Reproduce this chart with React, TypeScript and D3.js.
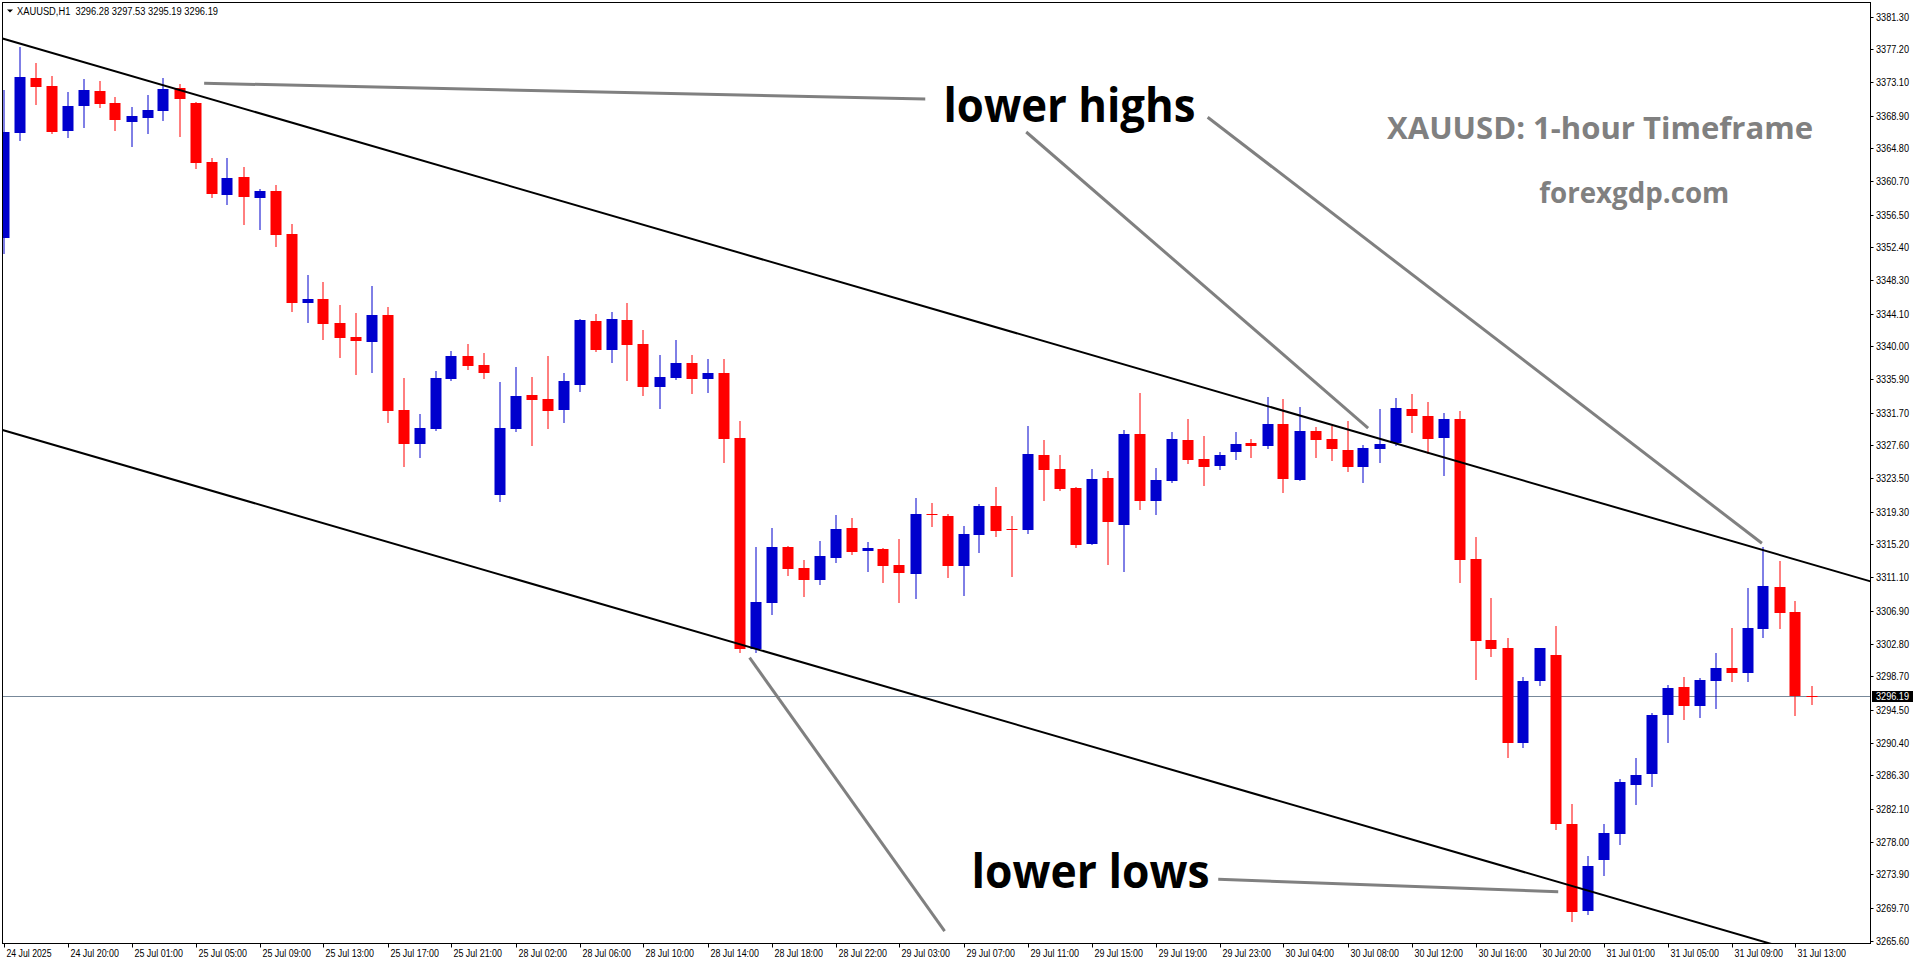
import * as d3 from "d3";

// XAUUSD H1 candles (index 0 = 24 Jul 16:00)
const openPrices = [
  3353.57, 3366.75, 3373.64, 3372.6, 3367.0, 3370.1, 3371.97, 3370.47, 3368.13, 3368.63,
  3369.51, 3372.35, 3370.47, 3363.09, 3358.99, 3361.21, 3358.62, 3359.45, 3354.07, 3345.47,
  3345.94, 3342.97, 3341.18, 3340.59, 3343.93, 3332.04, 3327.82, 3329.7, 3335.96, 3338.8,
  3337.67, 3321.43, 3329.7, 3333.92, 3333.42, 3332.08, 3335.21, 3343.18, 3339.59, 3343.31,
  3340.3, 3334.96, 3336.08, 3337.92, 3335.96, 3336.67, 3328.53, 3302.16, 3307.91, 3314.93,
  3312.3, 3310.79, 3313.55, 3317.3, 3314.43, 3314.68, 3312.67, 3311.55, 3319.06, 3318.81,
  3312.55, 3316.43, 3320.06, 3317.18, 3317.06, 3326.44, 3324.69, 3322.31, 3315.3, 3323.53,
  3317.68, 3329.04, 3320.68, 3323.19, 3328.28, 3325.9, 3325.07, 3326.82, 3327.91, 3327.57,
  3330.29, 3323.31, 3329.41, 3328.41, 3327.03, 3324.94, 3327.19, 3327.95, 3332.17, 3331.29,
  3328.57, 3330.91, 3313.39, 3303.28, 3302.28, 3290.39, 3298.15, 3301.37, 3280.25, 3269.36,
  3275.74, 3279.0, 3285.13, 3286.51, 3293.89, 3297.36, 3295.02, 3298.15, 3299.74, 3299.15,
  3304.66, 3309.88, 3306.75, 3296.28,
];
const highPrices = [
  3372.1, 3377.52, 3375.44, 3373.85, 3371.85, 3373.48, 3373.23, 3371.22, 3369.97, 3371.47,
  3373.6, 3372.85, 3370.63, 3363.59, 3363.59, 3362.5, 3359.7, 3360.21, 3355.32, 3348.94,
  3348.06, 3345.18, 3344.22, 3347.56, 3344.93, 3336.08, 3331.57, 3336.92, 3339.46, 3340.3,
  3339.17, 3335.54, 3337.42, 3336.17, 3338.8, 3336.67, 3343.4, 3344.06, 3344.31, 3345.43,
  3342.05, 3338.92, 3340.8, 3338.92, 3338.42, 3338.42, 3330.66, 3314.93, 3317.3, 3315.05,
  3313.26, 3315.64, 3318.93, 3318.56, 3315.55, 3314.8, 3315.93, 3321.06, 3320.44, 3319.06,
  3317.56, 3320.31, 3322.44, 3318.81, 3330.07, 3328.32, 3326.44, 3322.44, 3324.69, 3324.4,
  3329.54, 3334.17, 3324.78, 3329.29, 3330.91, 3328.78, 3326.78, 3329.29, 3328.41, 3333.67,
  3333.42, 3332.41, 3329.91, 3330.04, 3330.66, 3327.66, 3332.17, 3333.54, 3334.04, 3333.04,
  3331.66, 3331.91, 3316.14, 3308.5, 3303.53, 3298.65, 3302.28, 3305.0, 3282.75, 3276.2,
  3280.25, 3285.84, 3288.51, 3294.11, 3297.61, 3298.61, 3298.49, 3301.62, 3304.75, 3309.76,
  3314.89, 3313.14, 3308.13, 3297.53,
];
const lowPrices = [
  3351.69, 3365.84, 3370.35, 3366.7, 3366.25, 3367.51, 3370.01, 3367.13, 3365.13, 3366.75,
  3368.38, 3366.38, 3362.37, 3358.74, 3357.87, 3355.36, 3354.74, 3352.61, 3344.47, 3343.09,
  3340.97, 3338.71, 3336.58, 3336.83, 3330.57, 3325.06, 3326.19, 3329.57, 3335.83, 3337.21,
  3336.08, 3320.68, 3329.45, 3327.7, 3329.82, 3330.57, 3334.46, 3339.46, 3338.09, 3335.83,
  3333.95, 3332.33, 3335.96, 3334.2, 3334.33, 3325.57, 3301.78, 3301.78, 3306.54, 3311.42,
  3308.79, 3310.29, 3313.05, 3314.05, 3311.92, 3310.55, 3308.04, 3308.54, 3317.56, 3311.17,
  3308.92, 3314.3, 3316.31, 3311.3, 3316.68, 3320.81, 3322.06, 3314.93, 3315.3, 3312.8,
  3311.92, 3319.68, 3319.06, 3323.07, 3325.44, 3322.69, 3324.69, 3325.94, 3326.19, 3327.32,
  3321.81, 3323.31, 3326.19, 3325.82, 3324.44, 3323.07, 3325.57, 3327.7, 3329.32, 3326.69,
  3323.94, 3310.55, 3298.4, 3301.28, 3288.64, 3289.89, 3297.65, 3279.62, 3268.11, 3268.98,
  3273.86, 3277.74, 3282.75, 3285.0, 3290.51, 3293.39, 3293.64, 3294.77, 3298.15, 3298.15,
  3303.66, 3304.79, 3293.89, 3295.19,
];
const closePrices = [
  3366.84, 3373.76, 3372.51, 3366.84, 3370.1, 3372.1, 3370.39, 3368.38, 3368.85, 3369.6,
  3372.22, 3370.97, 3363.0, 3359.12, 3361.08, 3358.74, 3359.45, 3353.98, 3345.47, 3345.94,
  3342.84, 3341.09, 3340.71, 3343.93, 3331.95, 3327.82, 3329.79, 3336.05, 3338.8, 3337.58,
  3336.71, 3329.79, 3333.79, 3333.33, 3331.95, 3335.67, 3343.31, 3339.59, 3343.43, 3340.21,
  3334.96, 3336.17, 3337.92, 3335.96, 3336.67, 3328.45, 3302.16, 3308.04, 3314.93, 3312.17,
  3310.79, 3313.8, 3317.18, 3314.3, 3314.8, 3312.55, 3311.67, 3319.06, 3318.93, 3312.55,
  3316.55, 3320.06, 3316.93, 3317.06, 3326.57, 3324.57, 3322.19, 3315.18, 3323.44, 3318.06,
  3329.04, 3320.68, 3323.28, 3328.41, 3325.82, 3324.94, 3326.41, 3327.79, 3327.57, 3330.29,
  3323.44, 3329.41, 3328.32, 3327.19, 3324.94, 3327.28, 3327.79, 3332.29, 3331.33, 3328.45,
  3330.91, 3313.3, 3303.16, 3302.16, 3290.39, 3298.15, 3302.28, 3280.25, 3269.23, 3274.95,
  3279.08, 3285.47, 3286.35, 3293.86, 3297.24, 3295.02, 3298.24, 3299.74, 3299.15, 3304.75,
  3310.01, 3306.66, 3296.28, 3296.19,
];

// time axis labels (every 4th bar)
const timeLabels = [
  "24 Jul 2025", "24 Jul 20:00", "25 Jul 01:00", "25 Jul 05:00", "25 Jul 09:00", "25 Jul 13:00",
  "25 Jul 17:00", "25 Jul 21:00", "28 Jul 02:00", "28 Jul 06:00", "28 Jul 10:00", "28 Jul 14:00",
  "28 Jul 18:00", "28 Jul 22:00", "29 Jul 03:00", "29 Jul 07:00", "29 Jul 11:00", "29 Jul 15:00",
  "29 Jul 19:00", "29 Jul 23:00", "30 Jul 04:00", "30 Jul 08:00", "30 Jul 12:00", "30 Jul 16:00",
  "30 Jul 20:00", "31 Jul 01:00", "31 Jul 05:00", "31 Jul 09:00", "31 Jul 13:00",
];
const priceTicks = [
  "3381.30", "3377.20", "3373.10", "3368.90", "3364.80", "3360.70", "3356.50", "3352.40",
  "3348.30", "3344.10", "3340.00", "3335.90", "3331.70", "3327.60", "3323.50", "3319.30",
  "3315.20", "3311.10", "3306.90", "3302.80", "3298.70", "3294.50", "3290.40", "3286.30",
  "3282.10", "3278.00", "3273.90", "3269.70", "3265.60",
];
const lastPrice = 3296.19;

// channel lines: [bar, price] anchors, extended across the chart
const upperChannel = [[0, 3378.5], [113, 3312.73]];
const lowerChannel = [[0, 3329.5], [113, 3263.73]];

// grey pointer lines: [bar, price] pairs
const pointerLines = [
  [[12.54, 3372.94], [57.61, 3370.97]],
  [[63.92, 3366.84], [85.29, 3329.78]],
  [[75.26, 3368.68], [109.9, 3315.35]],
  [[46.63, 3301.03], [58.82, 3266.8]],
  [[75.92, 3273.29], [97.17, 3271.73]],
];

const W = 1916;
const H = 964;
const left = 2.5;
const right = 1870.5;
const top = 2.5;
const bottom = 943.5;

export default function App() {
  const n = openPrices.length;
  const x = d3.scaleLinear().domain([0, n - 1]).range([3.5, 3.5 + 16 * (n - 1)]);
  const y = d3.scaleLinear().domain([3265.31, 3383.028]).range([943, 2.7]);

  const extend = (pts: number[][]) => {
    const [[b0, p0], [b1, p1]] = pts;
    const s = (p1 - p0) / (b1 - b0);
    const bl = x.invert(left);
    const br = x.invert(right);
    return [
      [x(bl), y(p0 + s * (bl - b0))],
      [x(br), y(p0 + s * (br - b0))],
    ];
  };
  const lineGen = d3.line();

  const bull = "#0000CD";
  const bear = "#FF0000";
  const axisFont = "'Liberation Sans', Arial, sans-serif";
  const annFont = "'Open Sans', 'Noto Sans', sans-serif";

  return (
    <svg width={W} height={H} style={{ position: "absolute", left: 0, top: 0, background: "#fff" }}>
      <defs>
        <clipPath id="plot">
          <rect x={left} y={top} width={right - left} height={bottom - top} />
        </clipPath>
      </defs>
      <rect x={0} y={0} width={W} height={H} fill="#fff" />

      <g clipPath="url(#plot)">
        <line x1={left} x2={right} y1={Math.round(y(lastPrice)) + 0.5} y2={Math.round(y(lastPrice)) + 0.5} stroke="#778899" strokeWidth={1} />
        {openPrices.map((o, i) => {
          const c = closePrices[i];
          const col = c >= o ? bull : bear;
          const cx = Math.round(x(i)) - 0.5;
          const yt = Math.round(y(Math.max(o, c)));
          const yb = Math.round(y(Math.min(o, c)));
          return (
            <g key={i}>
              <line x1={cx + 0.5} x2={cx + 0.5} y1={Math.round(y(highPrices[i]))} y2={Math.round(y(lowPrices[i])) + 1} stroke={col} strokeWidth={1} />
              <rect x={cx - 5} y={yt} width={11} height={Math.max(1, yb - yt)} fill={col} />
            </g>
          );
        })}
        {[upperChannel, lowerChannel].map((l, i) => (
          <path key={i} d={lineGen(extend(l) as [number, number][]) || ""} stroke="#000" strokeWidth={2} fill="none" />
        ))}
        {pointerLines.map((l, i) => (
          <path key={i} d={lineGen(l.map(([b, p]) => [x(b), y(p)]) as [number, number][]) || ""} stroke="#808080" strokeWidth={3} fill="none" />
        ))}
      </g>

      <rect x={left} y={top} width={right - left} height={bottom - top} fill="none" stroke="#000" strokeWidth={1} />

      {/* header */}
      <path d="M7,9.5 L13,9.5 L10,12.5 Z" fill="#000" />
      <text x={17} y={14.5} fontFamily={axisFont} fontSize={10} fill="#000" textLength={201} lengthAdjust="spacingAndGlyphs" style={{ whiteSpace: "pre" }}>
        {"XAUUSD,H1  3296.28 3297.53 3295.19 3296.19"}
      </text>

      {/* price axis */}
      {priceTicks.map((t) => {
        const yy = Math.round(y(+t)) + 0.5;
        return (
          <g key={t}>
            <line x1={right} x2={right + 3} y1={yy} y2={yy} stroke="#000" />
            <text x={1876} y={yy + 3.5} fontFamily={axisFont} fontSize={10} fill="#000" textLength={33} lengthAdjust="spacingAndGlyphs">
              {t}
            </text>
          </g>
        );
      })}
      <rect x={1872} y={Math.round(y(lastPrice)) - 5} width={41} height={11} fill="#000" />
      <text x={1876} y={Math.round(y(lastPrice)) + 4} fontFamily={axisFont} fontSize={10} fill="#fff" textLength={33} lengthAdjust="spacingAndGlyphs">
        {lastPrice.toFixed(2)}
      </text>

      {/* time axis */}
      {timeLabels.map((t, k) => {
        const xx = Math.round(x(k * 4)) + 0.5;
        return (
          <g key={t}>
            <line x1={xx} x2={xx} y1={bottom} y2={bottom + 4} stroke="#000" />
            <text x={xx + 2} y={957} fontFamily={axisFont} fontSize={10} fill="#000" textLength={k === 0 ? 45 : 48.5} lengthAdjust="spacingAndGlyphs">
              {t}
            </text>
          </g>
        );
      })}

      {/* annotations */}
      <text x={943.5} y={122} fontFamily={annFont} fontWeight={700} fontSize={46} fill="#000" textLength={252} lengthAdjust="spacingAndGlyphs">
        lower highs
      </text>
      <text x={971.5} y={888} fontFamily={annFont} fontWeight={700} fontSize={46} fill="#000" textLength={238} lengthAdjust="spacingAndGlyphs">
        lower lows
      </text>
      <text x={1387} y={139.3} fontFamily={annFont} fontWeight={700} fontSize={31} fill="#808080" textLength={426} lengthAdjust="spacingAndGlyphs">
        XAUUSD: 1-hour Timeframe
      </text>
      <text x={1539.3} y={202.7} fontFamily={annFont} fontWeight={700} fontSize={28} fill="#808080" textLength={190} lengthAdjust="spacingAndGlyphs">
        forexgdp.com
      </text>
    </svg>
  );
}
